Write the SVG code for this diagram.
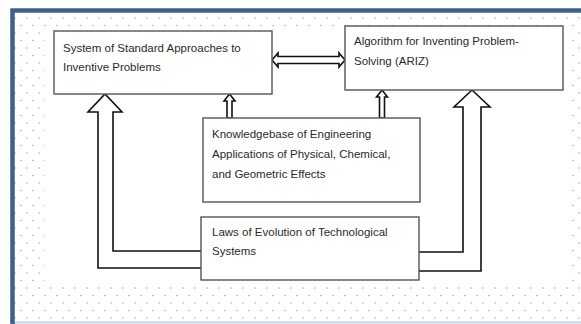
<svg xmlns="http://www.w3.org/2000/svg" width="581" height="324" viewBox="0 0 581 324">
<defs>
<pattern id="dots" x="0" y="0" width="12" height="15" patternUnits="userSpaceOnUse">
<circle cx="3" cy="3" r="0.75" fill="#9aa3ad"/>
<circle cx="9" cy="10.5" r="0.75" fill="#9aa3ad"/>
</pattern>
<style>
.box{fill:#ffffff;stroke:#555555;stroke-width:1.4}
.arrow{fill:#ffffff;stroke:#111111;stroke-width:1.6;stroke-linejoin:miter}
.arrow-open{fill:none;stroke:#111111;stroke-width:1.6;stroke-linejoin:miter}
.lbl{font-family:"Liberation Sans",Arial,sans-serif;font-size:11.5px;fill:#2a2a2a}
</style>
</defs>
<rect x="0" y="0" width="581" height="324" fill="#ffffff"/>
<g id="frame">
<rect x="14" y="12" width="567" height="310" fill="url(#dots)"/>
<rect x="45" y="28" width="523" height="259" fill="#ffffff"/>
<line x1="12" y1="322.5" x2="581" y2="322.5" stroke="#c5d2e4" stroke-width="2"/>
<path d="M12.5,324 V10.5 H581" fill="none" stroke="#3f5f8c" stroke-width="4.5"/>
</g>
<g id="connectors">
<path class="arrow" d="M201,251 H113 V112 H122 L105,94 L88,112 H98 V268 H201"/>
<path class="arrow" d="M419,252 H463 V107 H454 L472,90 L490,107 H481 V271 H419"/>
<path class="arrow" d="M227,118 V101 H224 L229.5,94 L235,101 H232 V118 Z"/>
<path class="arrow" d="M379.5,118 V97 H376.5 L382,90 L387.5,97 H384.5 V118 Z"/>
<path class="arrow" d="M272,60 L278,53 V56.5 H339 V53 L345,60 L339,67 V63.5 H278 V67 Z"/>
</g>
<g id="node-standard">
<rect class="box" x="54" y="31" width="218" height="63"/>
<text class="lbl" x="63" y="52">System of Standard Approaches to</text>
<text class="lbl" x="63" y="71">Inventive Problems</text>
</g>
<g id="node-ariz">
<rect class="box" x="345" y="26" width="218" height="64"/>
<text class="lbl" x="354" y="45">Algorithm for Inventing Problem-</text>
<text class="lbl" x="354" y="65">Solving (ARIZ)</text>
</g>
<g id="node-knowledgebase">
<rect class="box" x="203" y="118" width="217" height="84"/>
<text class="lbl" x="212" y="138">Knowledgebase of Engineering</text>
<text class="lbl" x="212" y="158">Applications of Physical, Chemical,</text>
<text class="lbl" x="212" y="178">and Geometric Effects</text>
</g>
<g id="node-laws">
<rect class="box" x="201" y="217" width="218" height="63"/>
<text class="lbl" x="212" y="236">Laws of Evolution of Technological</text>
<text class="lbl" x="212" y="255">Systems</text>
</g>
</svg>
